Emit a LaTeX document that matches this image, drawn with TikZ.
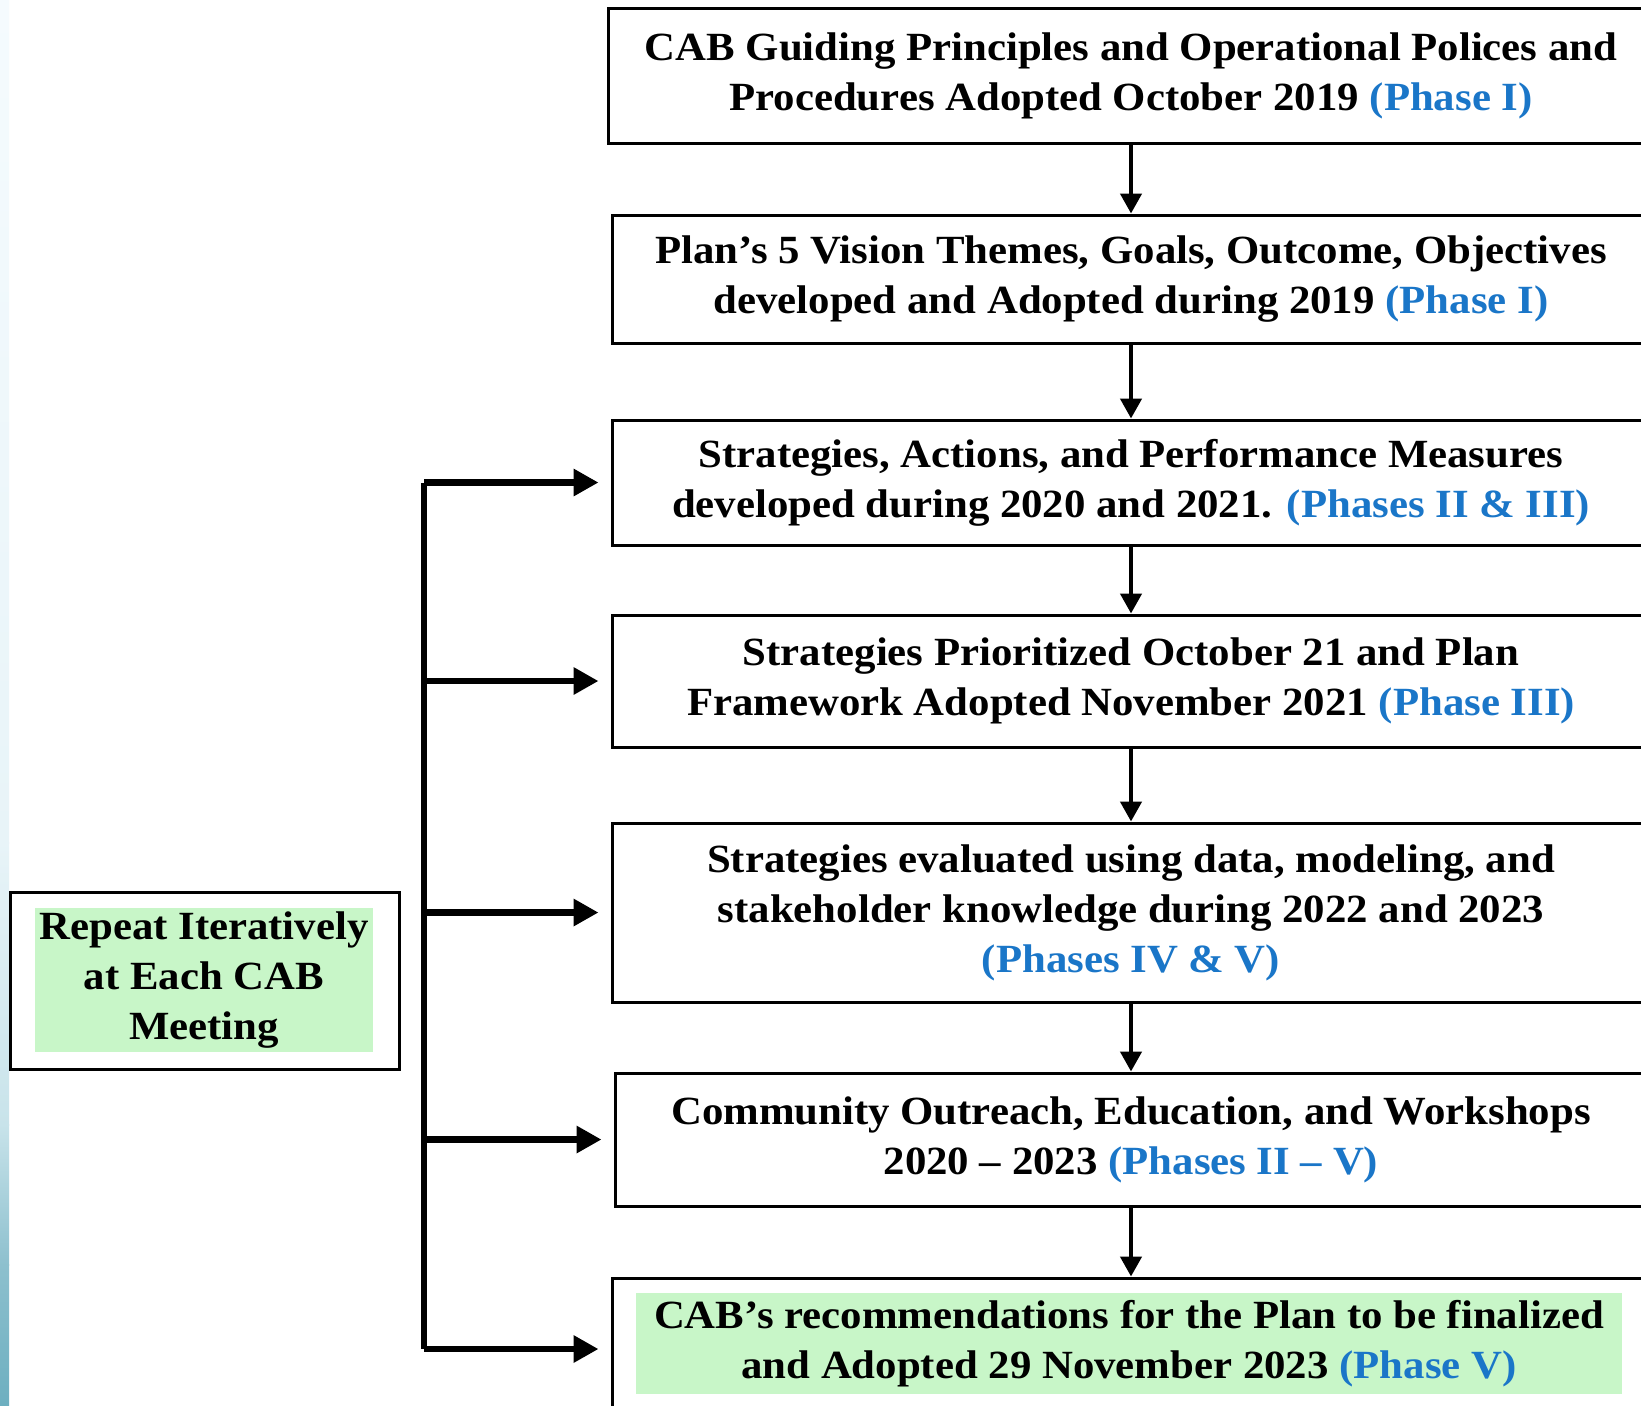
\documentclass[tikz,border=0pt]{standalone}
\usepackage{fontspec}
\setmainfont[FakeStretch=1.07]{Liberation Serif}
\usetikzlibrary{arrows.meta}
\definecolor{hl}{RGB}{200,246,200}
\definecolor{ph}{RGB}{26,118,200}
\definecolor{sA}{RGB}{245,251,254}
\definecolor{sB}{RGB}{232,244,248}
\definecolor{sC}{RGB}{200,227,234}
\definecolor{sD}{RGB}{141,192,206}
\definecolor{sE}{RGB}{109,175,192}
\newcommand{\phs}[1]{\textcolor{ph}{#1}}
\begin{document}
\begin{tikzpicture}[x=0.5pt,y=-0.5pt,
  txt/.style={font=\fontsize{20}{25}\selectfont\bfseries, align=center},
  box/.style={draw, line width=1.5pt, inner sep=0pt, txt},
  hlbox/.style={fill=hl, inner sep=0pt, txt},
  down/.style={line width=2.2pt, -{Triangle[length=10pt,width=10.5pt]}},
  feed/.style={line width=3.2pt, -{Triangle[length=12.5pt,width=13pt]}, shorten >=6pt},
  spineline/.style={line width=3.2pt}]
\useasboundingbox (0,0) rectangle (1641,1405);
\clip (0,0) rectangle (1641,1405);
\fill[white] (0,0) rectangle (1641,1405);
% left gradient strip
\shade[top color=sA, bottom color=sB] (0,0) rectangle (9,843);
\shade[top color=sB, bottom color=sC] (0,842) rectangle (9,1125);
\shade[top color=sC, bottom color=sD] (0,1124) rectangle (9,1265);
\shade[top color=sD, bottom color=sE] (0,1264) rectangle (9,1405);

% main column
\node[box, minimum width=523pt, minimum height=67.5pt] (b1) at (1131,75.5)
  {CAB Guiding Principles and Operational Polices and\\Procedures Adopted October 2019 \phs{(Phase I)}};
\node[box, minimum width=519pt, minimum height=64pt] (b2) at (1131,279)
  {Plan’s 5 Vision Themes, Goals, Outcome, Objectives\\developed and Adopted during 2019 \phs{(Phase I)}};
\node[box, minimum width=519pt, minimum height=62.5pt] (b3) at (1131,482.5)
  {Strategies, Actions, and Performance Measures\\developed during 2020 and 2021. \phs{(Phases II \& III)}};
\node[box, minimum width=519pt, minimum height=66pt] (b4) at (1131,681)
  {Strategies Prioritized October 21 and Plan\\Framework Adopted November 2021 \phs{(Phase III)}};
\node[box, minimum width=519pt, minimum height=89.5pt] (b5) at (1131,912.5)
  {Strategies evaluated using data, modeling, and\\stakeholder knowledge during 2022 and 2023\\\phs{(Phases IV \& V)}};
\node[box, minimum width=516pt, minimum height=66.5pt] (b6) at (1131,1139.5)
  {Community Outreach, Education, and Workshops\\2020 -- 2023 \phs{(Phases II -- V)}};
\node[draw, line width=1.5pt, inner sep=0pt, minimum width=519pt, minimum height=71pt] (b7) at (1131,1349) {};
\node[hlbox, minimum width=493pt, minimum height=50.5pt] (b7t) at (1129,1343.5)
  {CAB’s recommendations for the Plan to be finalized\\and Adopted 29 November 2023 \phs{(Phase V)}};

\draw[down] (b1.south) -- (b2.north);
\draw[down] (b2.south) -- (b3.north);
\draw[down] (b3.south) -- (b4.north);
\draw[down] (b4.south) -- (b5.north);
\draw[down] (b5.south) -- (b6.north);
\draw[down] (b6.south) -- (b7.north);

% left box
\node[draw, line width=1.5pt, inner sep=0pt, minimum width=194.5pt, minimum height=88.5pt] (rep) at (204.5,980.5) {};
\node[hlbox, minimum width=169pt, minimum height=72pt] (rept) at (204,980)
  {Repeat Iteratively\\at Each CAB\\Meeting};

% feedback spine
\coordinate (spine) at (424,0);
\draw[spineline] (b3.west -| spine) -- (b7.west -| spine);
\foreach \b in {b3,b4,b5,b6,b7}{
  \draw[feed] (\b.west -| spine) -- (\b.west);
}
\end{tikzpicture}
\end{document}
